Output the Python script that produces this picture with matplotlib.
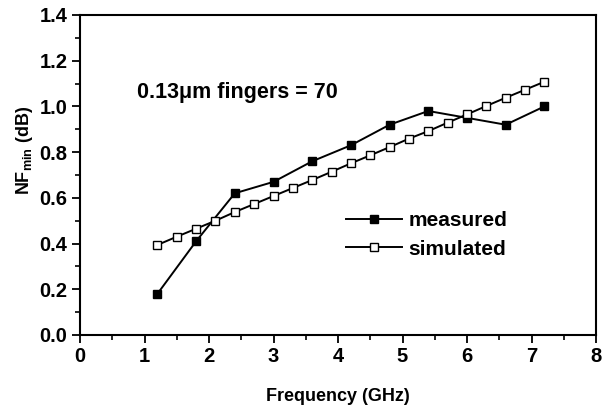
import matplotlib
matplotlib.use("Agg")
import matplotlib.pyplot as plt
from matplotlib.ticker import MultipleLocator

# measured NFmin (dB) vs frequency (GHz)
meas_freq = [1.2, 1.8, 2.4, 3.0, 3.6, 4.2, 4.8, 5.4, 6.0, 6.6, 7.2]
meas_nf = [0.18, 0.41, 0.62, 0.67, 0.76, 0.83, 0.92, 0.98, 0.95, 0.92, 1.00]

# simulated NFmin (dB), every 0.3 GHz
sim_freq = [1.2, 1.5, 1.8, 2.1, 2.4, 2.7, 3.0, 3.3, 3.6, 3.9, 4.2,
            4.5, 4.8, 5.1, 5.4, 5.7, 6.0, 6.3, 6.6, 6.9, 7.2]
sim_nf = [0.394, 0.43, 0.465, 0.50, 0.538, 0.573, 0.608, 0.643, 0.678, 0.714, 0.751,
          0.786, 0.822, 0.859, 0.892, 0.929, 0.965, 1.002, 1.038, 1.073, 1.108]

plt.rcParams["font.family"] = ["Liberation Sans", "DejaVu Sans"]
plt.rcParams["font.weight"] = "bold"
plt.rcParams["mathtext.fontset"] = "custom"
plt.rcParams["mathtext.rm"] = "Liberation Sans:bold"
plt.rcParams["mathtext.it"] = "Liberation Sans:bold"
plt.rcParams["mathtext.bf"] = "Liberation Sans:bold"

fig = plt.figure(figsize=(6.07, 4.05), dpi=100)
ax = fig.add_axes([80 / 607, 70 / 405, 516 / 607, 320 / 405])

ax.plot(meas_freq, meas_nf, color="black", lw=1.4, marker="s", ms=6,
        mfc="black", mec="black", label="measured")
ax.plot(sim_freq, sim_nf, color="black", lw=1.4, marker="s", ms=6,
        mfc="white", mec="black", mew=1.0, label="simulated")

ax.set_xlim(0, 8)
ax.set_ylim(0, 1.4)
ax.xaxis.set_major_locator(MultipleLocator(1))
ax.xaxis.set_minor_locator(MultipleLocator(0.5))
ax.yaxis.set_major_locator(MultipleLocator(0.2))
ax.yaxis.set_minor_locator(MultipleLocator(0.1))
ax.yaxis.set_major_formatter(plt.FormatStrFormatter("%.1f"))

for side in ax.spines.values():
    side.set_linewidth(1.5)
ax.tick_params(which="major", direction="out", length=6, width=1.3, labelsize=14.5, pad=3)
ax.tick_params(which="minor", direction="out", length=3.5, width=1.2)
ax.tick_params(top=False, right=False)

ax.set_xlabel("Frequency (GHz)", fontsize=13, fontweight="bold")
ax.xaxis.set_label_coords(0.5, -0.165)
fig.text(25 / 607, 1 - 150 / 405, r"NF$_{\mathrm{min}}$ (dB)", fontsize=13,
         fontweight="bold", rotation=90, ha="center", va="center")

ax.text(0.88, 1.063, "0.13\u03bcm fingers = 70", fontsize=15.5, fontweight="bold",
        va="center", ha="left")

ax.legend(loc="center left", bbox_to_anchor=(0.5155, 0.3125), frameon=False,
          fontsize=15, handlelength=2.7, handletextpad=0.3, labelspacing=0.45,
          borderpad=0, borderaxespad=0)

fig.savefig("out.png", dpi=100)
